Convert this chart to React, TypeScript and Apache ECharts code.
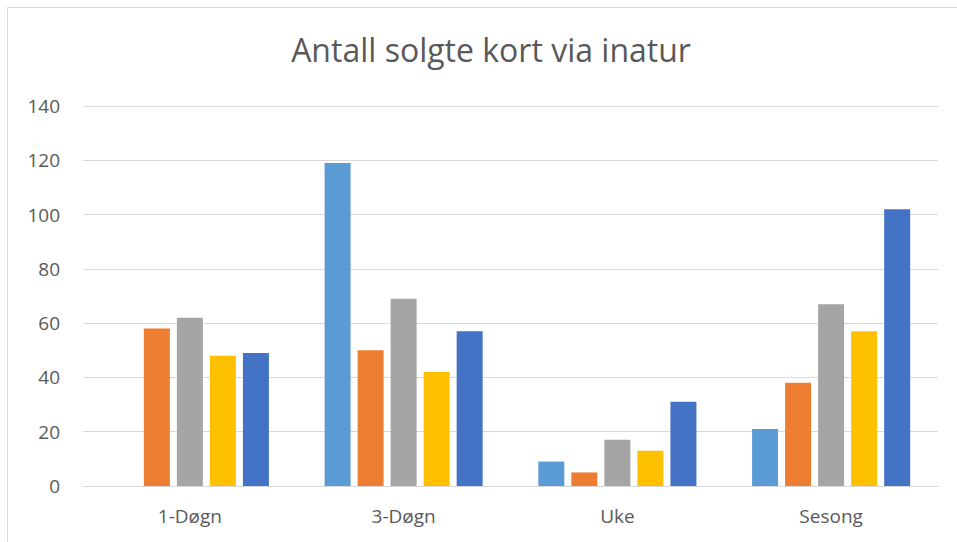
import React, { useEffect, useRef } from "react";
import * as echarts from "echarts";

const categories = ["1-Døgn", "3-Døgn", "Uke", "Sesong"];
const seriesNames = ["Serie 1", "Serie 2", "Serie 3", "Serie 4", "Serie 5"];
const series1 = [null, 119, 9, 21];
const series2 = [58, 50, 5, 38];
const series3 = [62, 69, 17, 67];
const series4 = [48, 42, 13, 57];
const series5 = [49, 57, 31, 102];
const colors = ["#5B9BD5", "#ED7D31", "#A5A5A5", "#FFC000", "#4472C4"];
const titleText = "Antall solgte kort via inatur";

export default function App() {
  const ref = useRef<HTMLDivElement>(null);
  useEffect(() => {
    if (!ref.current) return;
    const chart = echarts.init(ref.current, null, { renderer: "svg" });
    const all = [series1, series2, series3, series4, series5];
    chart.setOption({
      animation: false,
      backgroundColor: "#ffffff",
      graphic: [
        {
          type: "rect",
          shape: { x: 7.5, y: 7.5, width: 1000, height: 600 },
          style: { fill: "none", stroke: "#d9d9d9", lineWidth: 1 },
          silent: true,
        },
      ],
      title: {
        text: titleText,
        left: 486,
        top: 28,
        textAlign: "center",
        textStyle: {
          fontFamily: "Open Sans",
          fontSize: 32,
          fontWeight: "normal",
          color: "#595959",
        },
      },
      grid: { left: 83, right: 19, top: 106, bottom: 56, containLabel: false },
      xAxis: {
        type: "category",
        data: categories,
        axisLine: { lineStyle: { color: "#d9d9d9", width: 1 } },
        axisTick: { show: false },
        axisLabel: {
          color: "#595959",
          fontFamily: "Open Sans",
          fontSize: 19,
          margin: 20,
        },
      },
      yAxis: {
        type: "value",
        min: 0,
        max: 140,
        interval: 20,
        axisLine: { show: false },
        axisTick: { show: false },
        splitLine: { lineStyle: { color: "#d9d9d9", width: 1 } },
        axisLabel: {
          color: "#595959",
          fontFamily: "Open Sans",
          fontSize: 19,
          margin: 23,
        },
      },
      series: all.map((d, i) => ({
        name: seriesNames[i],
        type: "bar",
        data: d,
        barWidth: 26,
        barGap: "27%",
        itemStyle: { color: colors[i] },
      })),
    });
    return () => chart.dispose();
  }, []);
  return (
    <div
      ref={ref}
      style={{ position: "absolute", left: 0, top: 0, width: 957, height: 542 }}
    />
  );
}
